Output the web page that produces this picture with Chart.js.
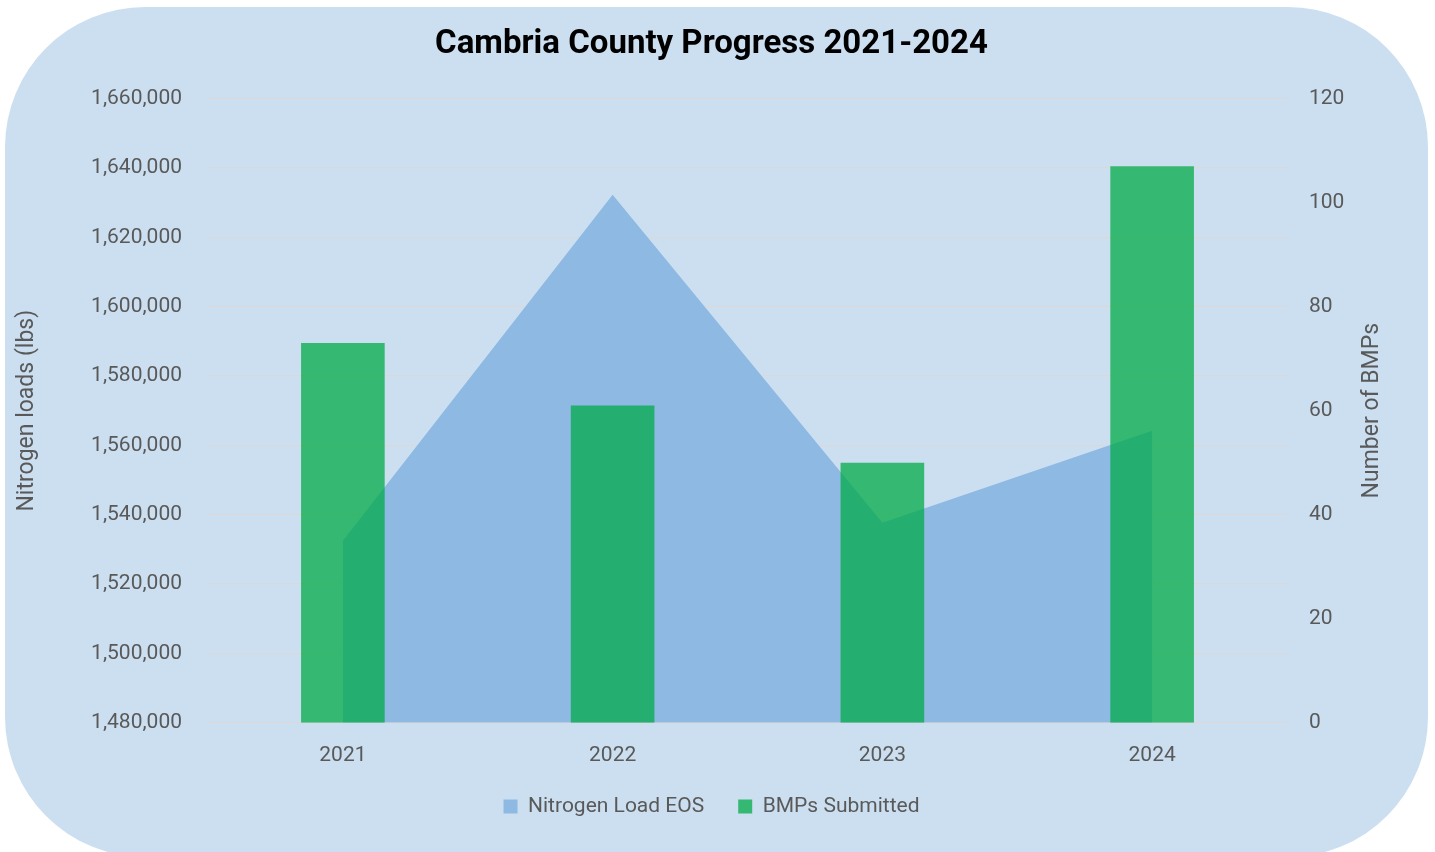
<!DOCTYPE html>
<html>
<head>
<meta charset="utf-8">
<script src="https://cdn.jsdelivr.net/npm/chart.js@4/dist/chart.umd.min.js"></script>
<style>
  html, body { margin: 0; padding: 0; background: #ffffff; }
  #wrap { position: relative; width: 1435px; height: 852px; overflow: hidden; }
  #bg { position: absolute; left: 5px; top: 7px; width: 1423px; height: 850px; background: #ccdff0; border-radius: 140px; }
  #myChart { position: absolute; left: 0; top: 0; }
</style>
</head>
<body>
<div id="wrap">
  <div id="bg"></div>
  <canvas id="myChart" width="1435" height="852"></canvas>
</div>
<script>
var years = ['2021', '2022', '2023', '2024'];
var nitrogenLoad = [1532500, 1632300, 1537700, 1564200];
var bmpsSubmitted = [73, 61, 50, 107];
var leftTicks = [1480000, 1660000, 20000];
var rightTicks = [0, 120, 20];
var leftTitle = 'Nitrogen loads (lbs)';
var rightTitle = 'Number of BMPs';

Chart.defaults.font.family = 'Roboto, "Liberation Sans", sans-serif';
Chart.defaults.color = '#595959';

// both axis titles read bottom-to-top, so draw them here
var axisTitles = {
  id: 'axisTitles',
  afterDraw: function (chart) {
    var c = chart.ctx;
    var a = chart.chartArea;
    var mid = (a.top + a.bottom) / 2;
    c.save();
    c.fillStyle = '#595959';
    c.font = '23px Roboto, "Liberation Sans", sans-serif';
    c.textAlign = 'center';
    c.textBaseline = 'middle';
    c.translate(27, mid);
    c.rotate(-Math.PI / 2);
    c.fillText(leftTitle, 0, 0);
    c.restore();
    c.save();
    c.fillStyle = '#595959';
    c.font = '23px Roboto, "Liberation Sans", sans-serif';
    c.textAlign = 'center';
    c.textBaseline = 'middle';
    c.translate(1372, mid);
    c.rotate(-Math.PI / 2);
    c.fillText(rightTitle, 0, 0);
    c.restore();
  }
};

const ctx = document.getElementById('myChart');
new Chart(ctx, {
  data: {
    labels: years,
    datasets: [{
      type: 'bar',
      label: 'BMPs Submitted',
      data: bmpsSubmitted,
      yAxisID: 'y1',
      backgroundColor: 'rgba(0, 170, 70, 0.74)',
      borderWidth: 0,
      barPercentage: 0.62,
      categoryPercentage: 0.5,
      order: 0
    },
    {
      type: 'line',
      label: 'Nitrogen Load EOS',
      data: nitrogenLoad,
      yAxisID: 'y',
      backgroundColor: 'rgb(141, 185, 227)',
      borderColor: 'rgb(141, 185, 227)',
      borderWidth: 0,
      pointRadius: 0,
      fill: 'start',
      tension: 0,
      order: 1
    }]
  },
  plugins: [axisTitles],
  options: {
    responsive: false,
    animation: false,
    layout: { padding: { left: 0, right: 12, top: 25, bottom: 25 } },
    plugins: {
      title: {
        display: true,
        text: 'Cambria County Progress 2021-2024',
        color: '#000000',
        font: { size: 33, weight: 'bold' },
        padding: { top: 0, bottom: 34 }
      },
      legend: {
        position: 'bottom',
        reverse: true,
        labels: {
          boxWidth: 14,
          boxHeight: 14,
          padding: 34,
          font: { size: 21 },
          color: '#595959'
        }
      },
      tooltip: { enabled: false }
    },
    scales: {
      x: {
        offset: true,
        grid: { display: false },
        border: { display: false },
        ticks: { font: { size: 21 }, padding: 12 },
        afterFit: function (s) { s.height -= 18; }
      },
      y: {
        position: 'left',
        min: leftTicks[0],
        max: leftTicks[1],
        ticks: {
          stepSize: leftTicks[2],
          font: { size: 21 },
          padding: 26,
          callback: function (v) { return v.toLocaleString('en-US'); }
        },
        grid: { color: '#d9d9d9', lineWidth: 1.3, drawTicks: false },
        border: { display: false },
        afterFit: function (s) { s.width = 208; }
      },
      y1: {
        position: 'right',
        min: rightTicks[0],
        max: rightTicks[1],
        ticks: { stepSize: rightTicks[2], font: { size: 21 }, padding: 22 },
        grid: { display: false, drawTicks: false },
        border: { display: false },
        afterFit: function (s) { s.width = 136; }
      }
    }
  }
});
</script>
</body>
</html>
